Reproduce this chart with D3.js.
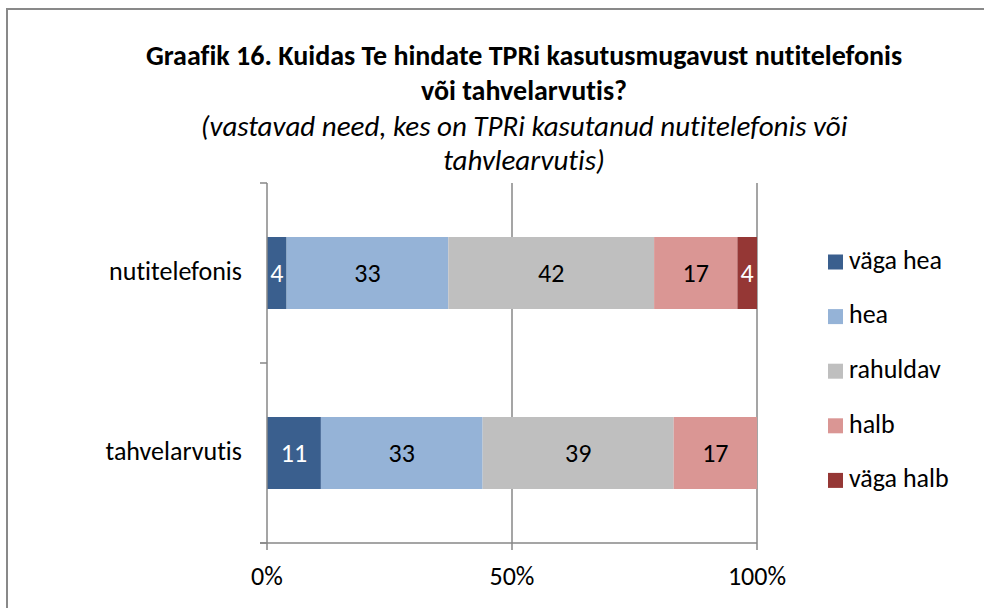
<!DOCTYPE html>
<html>
<head>
<meta charset="utf-8">
<script src="https://cdn.jsdelivr.net/npm/d3@7"></script>
<style>
  body { margin: 0; background: #fff; }
  svg text {
    font-family: Carlito, Calibri, Lato, "Open Sans", sans-serif;
    fill: #000;
    font-variant-ligatures: none;
  }
</style>
</head>
<body>
<div id="chart"></div>
<script>
const categories = ["nutitelefonis", "tahvelarvutis"];
const seriesNames = ["väga hea", "hea", "rahuldav", "halb", "väga halb"];
const vagaHea = [4, 11];
const hea = [33, 33];
const rahuldav = [42, 39];
const halb = [17, 17];
const vagaHalb = [4, 0];
const xTicks = [0, 50, 100];

const colors = ["#3A5F8E", "#95B3D7", "#BFBFBF", "#DA9694", "#953735"];
const labelColors = ["#fff", "#000", "#000", "#000", "#fff"];

const width = 984;
const height = 608;
const fontSize = 26;

const rows = categories.map((c, i) => ({
  cat: c,
  "väga hea": vagaHea[i],
  "hea": hea[i],
  "rahuldav": rahuldav[i],
  "halb": halb[i],
  "väga halb": vagaHalb[i],
}));

const svg = d3
  .select("#chart")
  .append("svg")
  .attr("width", width)
  .attr("height", height);

// outer frame (only top and left edges fall inside the picture)
svg
  .append("rect")
  .attr("x", 7)
  .attr("y", 9)
  .attr("width", width + 20)
  .attr("height", height + 20)
  .attr("fill", "#fff")
  .attr("stroke", "#898989")
  .attr("stroke-width", 2);

// title
const titleX = 524;
const title = svg.append("g").attr("text-anchor", "middle");
const titleLines = [
  { t: "Graafik 16. Kuidas Te hindate TPRi kasutusmugavust nutitelefonis", y: 65, bold: true },
  { t: "või tahvelarvutis?", y: 100, bold: true },
  { t: "(vastavad need, kes on TPRi kasutanud nutitelefonis või", y: 136, bold: false },
  { t: "tahvlearvutis)", y: 170, bold: false },
];
title
  .selectAll("text")
  .data(titleLines)
  .enter()
  .append("text")
  .attr("x", titleX)
  .attr("y", (d) => d.y)
  .style("font-size", (d) => (d.bold ? "28px" : "29px"))
  .style("font-weight", (d) => (d.bold ? "bold" : "normal"))
  .style("font-style", (d) => (d.bold ? "normal" : "italic"))
  .text((d) => d.t);

const x = d3.scaleLinear().domain([0, 100]).range([267, 757]);
const y = d3
  .scaleBand()
  .domain(categories)
  .range([183, 543])
  .paddingInner(0.6)
  .paddingOuter(0.3);

const axisColor = "#878787";

// vertical gridlines
svg
  .append("g")
  .selectAll("line")
  .data(xTicks.slice(1))
  .enter()
  .append("line")
  .attr("x1", (d) => x(d))
  .attr("x2", (d) => x(d))
  .attr("y1", 183)
  .attr("y2", 543)
  .attr("stroke", axisColor)
  .attr("stroke-width", 1.5);

const stack = d3.stack().keys(seriesNames)(rows);

const layers = svg
  .append("g")
  .selectAll("g")
  .data(stack)
  .enter()
  .append("g")
  .attr("fill", (d, i) => colors[i]);

layers
  .selectAll("rect")
  .data((d) => d)
  .enter()
  .append("rect")
  .attr("x", (d) => x(d[0]))
  .attr("y", (d) => y(d.data.cat))
  .attr("width", (d) => x(d[1]) - x(d[0]))
  .attr("height", y.bandwidth());

layers
  .selectAll("text")
  .data((d, i) => d.map((v) => ({ v: v, i: i })))
  .enter()
  .filter((d) => d.v[1] - d.v[0] > 0)
  .append("text")
  .attr("x", (d) => (x(d.v[0]) + x(d.v[1])) / 2)
  .attr("y", (d) => y(d.v.data.cat) + y.bandwidth() / 2)
  .attr("dy", "0.34em")
  .attr("text-anchor", "middle")
  .style("fill", (d) => labelColors[d.i])
  .style("font-size", fontSize + "px")
  .text((d) => d.v[1] - d.v[0]);

// y axis
const yAxis = svg.append("g");
yAxis
  .append("line")
  .attr("x1", 267)
  .attr("x2", 267)
  .attr("y1", 183)
  .attr("y2", 543)
  .attr("stroke", axisColor)
  .attr("stroke-width", 1.5);
yAxis
  .selectAll(".ytick")
  .data([y.range()[0], (y.range()[0] + y.range()[1]) / 2, y.range()[1]])
  .enter()
  .append("line")
  .attr("x1", 260)
  .attr("x2", 267)
  .attr("y1", (d) => d)
  .attr("y2", (d) => d)
  .attr("stroke", axisColor)
  .attr("stroke-width", 1.5);
yAxis
  .selectAll("text")
  .data(categories)
  .enter()
  .append("text")
  .attr("x", 242)
  .attr("y", (d) => y(d) + y.bandwidth() / 2)
  .attr("dy", "0.28em")
  .attr("text-anchor", "end")
  .style("font-size", fontSize + "px")
  .text((d) => d);

// x axis
const xAxis = svg.append("g");
xAxis
  .append("line")
  .attr("x1", 260)
  .attr("x2", 757)
  .attr("y1", 543)
  .attr("y2", 543)
  .attr("stroke", axisColor)
  .attr("stroke-width", 1.5);
xAxis
  .selectAll(".xtick")
  .data(xTicks)
  .enter()
  .append("line")
  .attr("x1", (d) => x(d))
  .attr("x2", (d) => x(d))
  .attr("y1", 543)
  .attr("y2", 550)
  .attr("stroke", axisColor)
  .attr("stroke-width", 1.5);
xAxis
  .selectAll("text")
  .data(xTicks)
  .enter()
  .append("text")
  .attr("x", (d) => x(d))
  .attr("y", 585)
  .attr("text-anchor", "middle")
  .style("font-size", fontSize + "px")
  .text((d) => d + "%");

// legend
const legend = svg
  .append("g")
  .selectAll("g")
  .data(seriesNames)
  .enter()
  .append("g")
  .attr("transform", (d, i) => `translate(828, ${262 + i * 54.6})`);
legend
  .append("rect")
  .attr("x", 0)
  .attr("y", -7.5)
  .attr("width", 15)
  .attr("height", 15)
  .attr("fill", (d, i) => colors[i]);
legend
  .append("text")
  .attr("x", 21)
  .attr("y", 0)
  .attr("dy", "0.26em")
  .style("font-size", fontSize + "px")
  .text((d) => d);
</script>
</body>
</html>
